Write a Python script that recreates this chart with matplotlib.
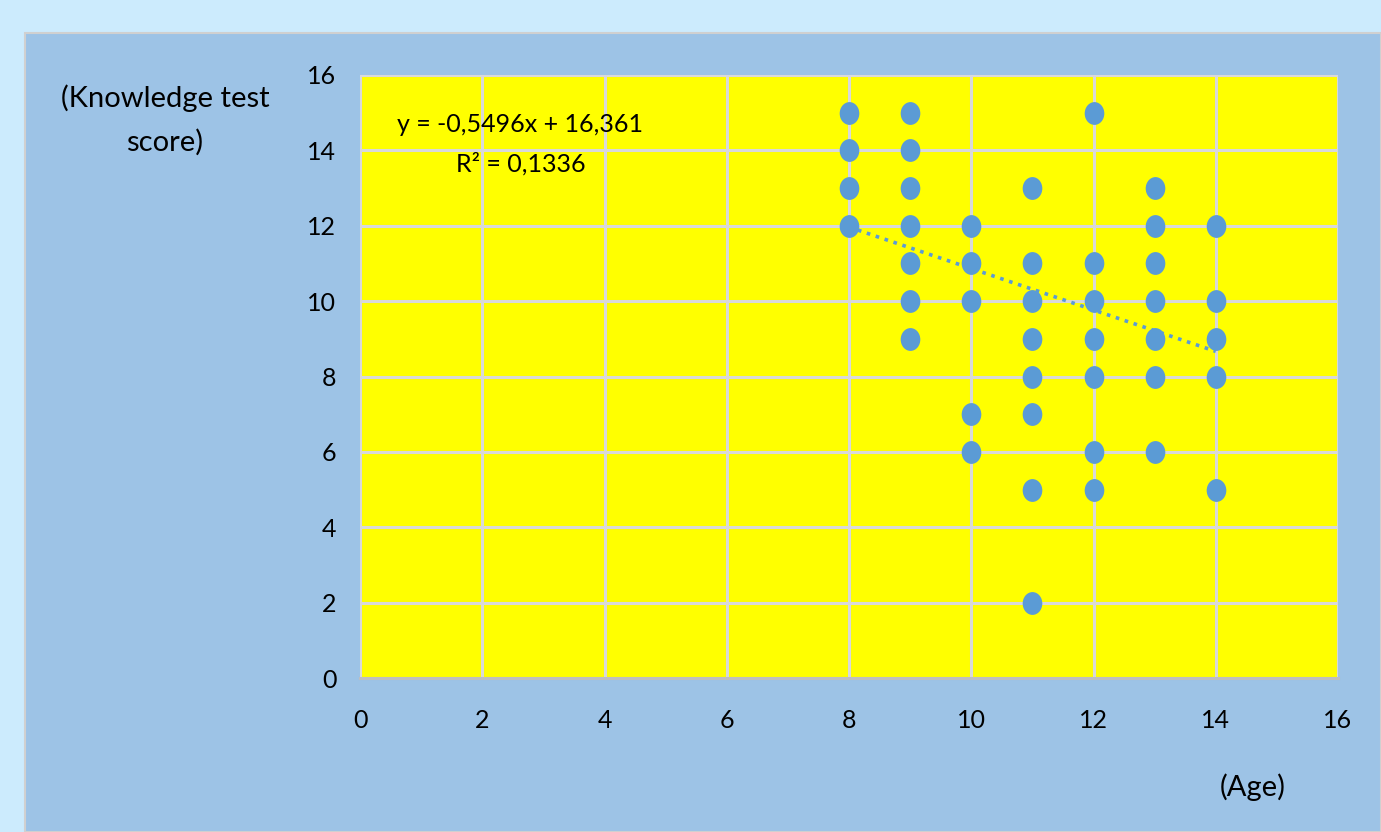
import matplotlib
matplotlib.use("Agg")
import matplotlib.pyplot as plt
from matplotlib.patches import Rectangle
from matplotlib.path import Path
from matplotlib.transforms import Affine2D
import numpy as np

age = [8, 8, 8, 8,
       9, 9, 9, 9, 9, 9, 9,
       10, 10, 10, 10, 10,
       11, 11, 11, 11, 11, 11, 11, 11,
       12, 12, 12, 12, 12, 12, 12,
       13, 13, 13, 13, 13, 13, 13,
       14, 14, 14, 14, 14]
score = [15, 14, 13, 12,
         15, 14, 13, 12, 11, 10, 9,
         12, 11, 10, 7, 6,
         13, 11, 10, 9, 8, 7, 5, 2,
         15, 11, 10, 9, 8, 6, 5,
         13, 12, 11, 10, 9, 8, 6,
         12, 10, 9, 8, 5]
slope = -0.5496
intercept = 16.361
r2_text = "0,1336"
ticks = [0, 2, 4, 6, 8, 10, 12, 14, 16]

plt.rcParams['font.family'] = ['Lato', 'DejaVu Sans']

W, H = 1381, 832
fig = plt.figure(figsize=(W / 100, H / 100), dpi=100)
fig.patch.set_facecolor('#CCEBFD')
fig.patches.append(Rectangle((25 / W, 0), 1 - 25 / W, (H - 33) / H, transform=fig.transFigure,
                             facecolor='#9DC3E6', edgecolor='#D0D0D0', linewidth=1.5, zorder=-10))

ax = fig.add_axes([360 / W, (H - 678) / H, 978 / W, 603 / H])
ax.set_zorder(2)
ax.set_facecolor('#FFFF00')
ax.set_xlim(0, 16)
ax.set_ylim(0, 16)
ax.set_xticks(ticks)
ax.set_yticks(ticks)
ax.grid(True, color='#D9D9D9', linewidth=2.2)
ax.set_axisbelow(True)
for s in ax.spines.values():
    s.set_visible(False)
ax.spines['bottom'].set_visible(True)
ax.spines['bottom'].set_color('#BFBFBF')
ax.spines['bottom'].set_linewidth(2.2)
ax.tick_params(length=0, labelsize=18, colors='#000000', pad=22)
ax.tick_params(axis='y', pad=17)

ellipse = Path.unit_circle().transformed(Affine2D().scale(0.86, 1.0))
ax.scatter(age, score, s=270, marker=ellipse, color='#5B9BD5', zorder=3, linewidths=0)
xs = np.array([min(age), max(age)])
ax.plot(xs, slope * xs + intercept, color='#5B9BD5', linestyle=(0, (1, 1.6)),
        linewidth=2.6, zorder=4)

ax.text(0.164, 0.918, "y = -0,5496x + 16,361", transform=ax.transAxes, ha='center',
        va='center', fontsize=18)
ax.text(0.164, 0.853, "R² = " + r2_text, transform=ax.transAxes, ha='center',
        va='center', fontsize=18)

fig.text(165 / W, 1 - 120 / H, "(Knowledge test\nscore)", ha='center', va='center',
         fontsize=21, linespacing=1.75)
fig.text(1253 / W, 1 - 787 / H, "(Age)", ha='center', va='center', fontsize=21)

fig.savefig('out.png', dpi=100, facecolor=fig.get_facecolor())
